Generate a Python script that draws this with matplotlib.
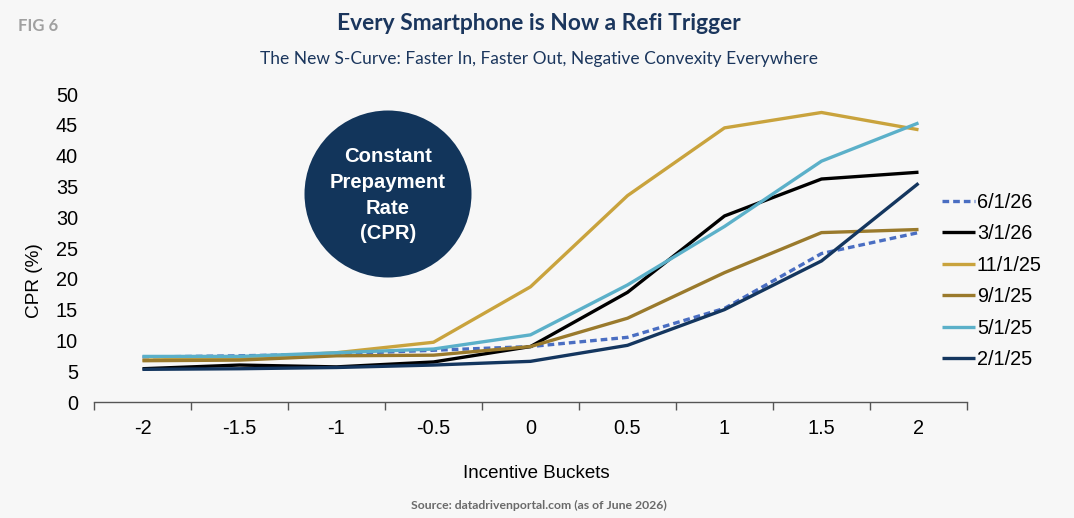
import matplotlib
matplotlib.use("Agg")
import matplotlib.pyplot as plt
from matplotlib.patches import Ellipse

categories = ["-2", "-1.5", "-1", "-0.5", "0", "0.5", "1", "1.5", "2"]
s_6_1_26 = [7.3, 7.5, 7.8, 8.4, 9.0, 10.5, 15.2, 24.1, 27.5]
s_3_1_26 = [5.4, 6.0, 5.7, 6.5, 9.0, 17.8, 30.2, 36.2, 37.3]
s_11_1_25 = [6.8, 7.1, 8.0, 9.7, 18.7, 33.5, 44.5, 47.0, 44.2]
s_9_1_25 = [6.7, 6.8, 7.5, 7.6, 9.0, 13.6, 21.0, 27.5, 28.0]
s_5_1_25 = [7.4, 7.4, 8.0, 8.6, 10.9, 19.0, 28.5, 39.1, 45.3]
s_2_1_25 = [5.3, 5.4, 5.6, 6.0, 6.6, 9.2, 15.0, 22.9, 35.5]
yticks = [0, 5, 10, 15, 20, 25, 30, 35, 40, 45, 50]

series = [
    ("6/1/26", s_6_1_26, "#4A6EC2", (0, (2.0, 1.2))),
    ("3/1/26", s_3_1_26, "#000000", "-"),
    ("11/1/25", s_11_1_25, "#C9A33D", "-"),
    ("9/1/25", s_9_1_25, "#9A7A2C", "-"),
    ("5/1/25", s_5_1_25, "#5BB0C9", "-"),
    ("2/1/25", s_2_1_25, "#14365F", "-"),
]

bg = "#F7F7F7"
W, H = 1074, 518
fig = plt.figure(figsize=(W / 100, H / 100), dpi=100, facecolor=bg)
ax = fig.add_axes([94 / W, 1 - 402 / H, (967 - 94) / W, (402 - 94) / H])
ax.set_facecolor(bg)

x = list(range(len(categories)))
for name, vals, col, ls in series:
    ax.plot(x, vals, color=col, linestyle=ls, linewidth=2.4, label=name,
            solid_capstyle="butt")

fs = 14.3
ax.set_xlim(-0.5, len(categories) - 0.5)
ax.set_ylim(0, 50)
ax.set_yticks(yticks)
ax.set_yticklabels([str(v) for v in yticks], fontsize=fs, family="Liberation Sans")
ax.set_xticks(x)
ax.set_xticklabels(categories, fontsize=fs, family="Liberation Sans")
ax.set_xticks([i - 0.5 for i in range(len(categories) + 1)], minor=True)
ax.tick_params(axis="x", which="major", length=0, pad=12)
ax.tick_params(axis="x", which="minor", length=6, color="#555555", width=1)
ax.tick_params(axis="y", length=0, pad=11.5)
for sp in ["top", "right", "left"]:
    ax.spines[sp].set_visible(False)
ax.spines["bottom"].set_color("#555555")
ax.spines["bottom"].set_linewidth(1)

ax.set_ylabel("CPR (%)", fontsize=13.7, family="Liberation Sans", labelpad=6)
ax.yaxis.set_label_coords(-0.058, (402 - 281) / 308)
ax.set_xlabel("Incentive Buckets", fontsize=13.5, family="Liberation Sans", labelpad=14)
ax.xaxis.set_label_coords((536 - 94) / 873, -(465 - 402) / 308)

leg = ax.legend(loc="center left", bbox_to_anchor=((942 - 94) / 873, (402 - 281) / 308),
                frameon=False, borderpad=0, borderaxespad=0,
                prop={"family": "Liberation Sans", "size": fs}, handlelength=1.65,
                handletextpad=0.1, labelspacing=0.63)

# circle
cx, cy, r = 388, 194, 83.5
fig.add_artist(Ellipse((cx / W, 1 - cy / H), 2 * r / W, 2 * r / H,
                       transform=fig.transFigure, facecolor="#12355B", edgecolor="none"))
for txt, yy in [("Constant", 156.5), ("Prepayment", 182), ("Rate", 208), ("(CPR)", 233.5)]:
    fig.text(cx / W, 1 - yy / H, txt, ha="center", va="center", color="white",
             fontsize=14.6, fontweight="bold", family="Liberation Sans")

fig.text(539 / W, 1 - 24 / H, "Every Smartphone is Now a Refi Trigger", ha="center",
         va="center", fontsize=16.4, fontweight="bold", color="#1B365D", family="Lato")
fig.text(539 / W, 1 - 59 / H, "The New S-Curve: Faster In, Faster Out, Negative Convexity Everywhere",
         ha="center", va="center", fontsize=12.5, color="#1B365D", family="Lato")
fig.text(18 / W, 1 - 26 / H, "FIG 6", ha="left", va="center", fontsize=12,
         fontweight="bold", color="#A0A0A0", family="Lato")
fig.text(539 / W, 1 - 505 / H, "Source: datadrivenportal.com (as of June 2026)", ha="center",
         va="center", fontsize=8.8, fontweight="bold", color="#6A6A6A", family="Lato")

fig.savefig("out.png", dpi=100, facecolor=bg)
